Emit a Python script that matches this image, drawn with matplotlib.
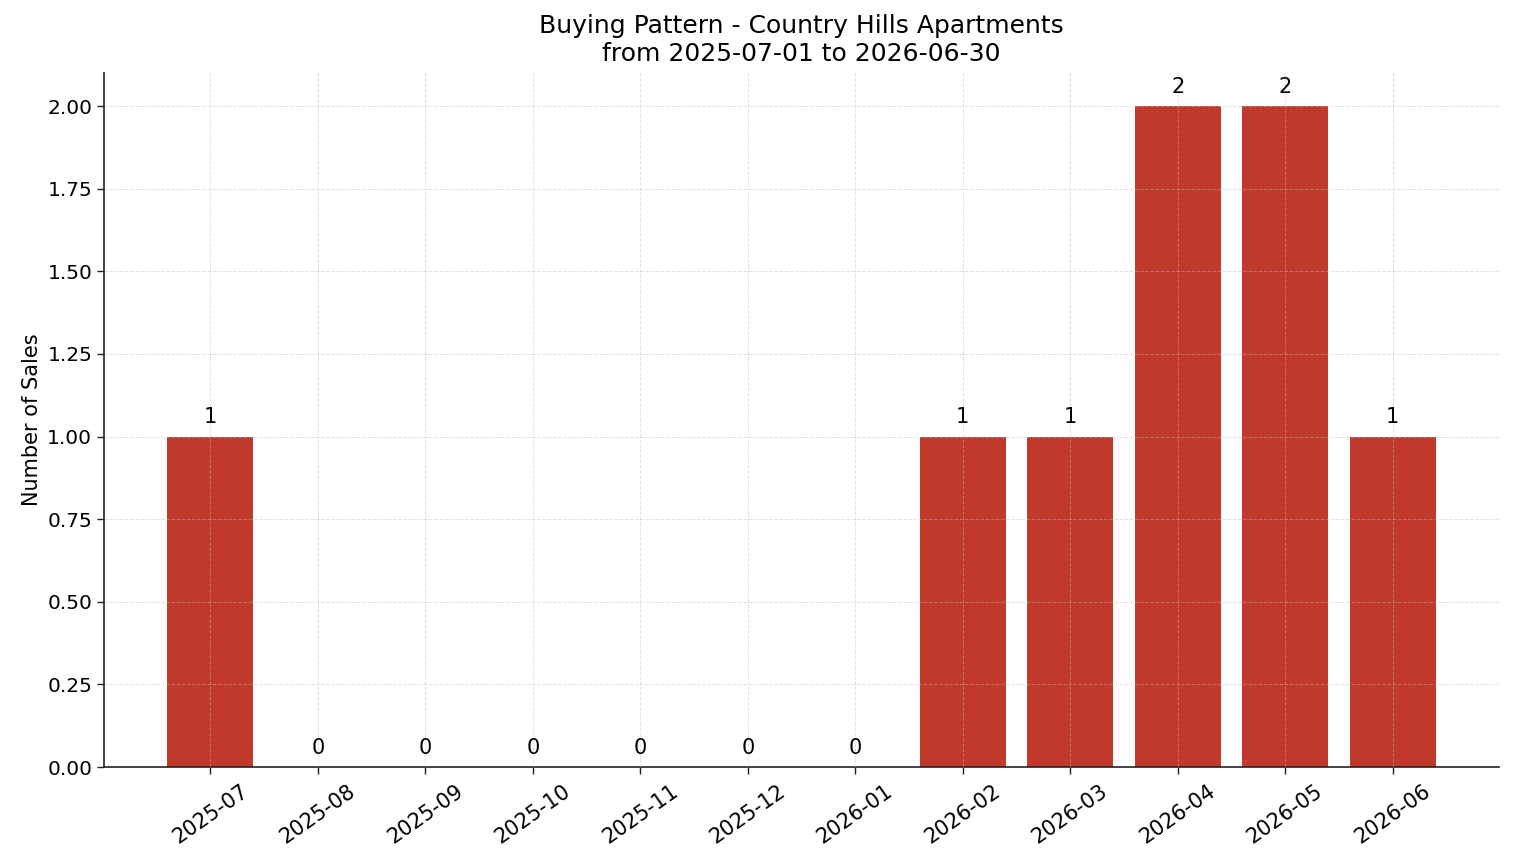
import matplotlib
matplotlib.use("Agg")
import matplotlib.pyplot as plt

months = ["2025-07", "2025-08", "2025-09", "2025-10", "2025-11", "2025-12",
          "2026-01", "2026-02", "2026-03", "2026-04", "2026-05", "2026-06"]
sales = [1, 0, 0, 0, 0, 0, 0, 1, 1, 2, 2, 1]
yticks = [0, 0.25, 0.5, 0.75, 1.0, 1.25, 1.5, 1.75, 2.0]

fig = plt.figure(figsize=(15.14, 8.63), dpi=100)
ax = fig.add_axes([104/1514, 1-767/863, (1499-104)/1514, (767-73)/863])
x = list(range(len(months)))
bars = ax.bar(x, sales, width=0.8, color="#c0392b", zorder=1)
ax.bar_label(bars, labels=[str(v) for v in sales], padding=6.5, fontsize=15)
ax.set_xticks(x)
ax.set_xticklabels(months, rotation=35, fontsize=15)
ax.set_ylim(0, 2.1)
ax.set_yticks(yticks)
ax.set_yticklabels([f"{v:.2f}" for v in yticks], fontsize=14.5)
ax.set_ylabel("Number of Sales", fontsize=15)
ax.set_title("Buying Pattern - Country Hills Apartments\nfrom 2025-07-01 to 2026-06-30", fontsize=18, linespacing=1.2, pad=8.5)
ax.grid(True, linestyle="--", color="#bbbbbb", alpha=0.45, linewidth=0.7, zorder=3)
ax.set_axisbelow(False)
for s in ["top", "right"]:
    ax.spines[s].set_visible(False)
for s in ["left", "bottom"]:
    ax.spines[s].set_color("#222222")
    ax.spines[s].set_linewidth(1.2)
ax.tick_params(length=5, width=1.0, color="#222222")
ax.tick_params(axis="x", pad=5)
fig.savefig("out.png", dpi=100)
